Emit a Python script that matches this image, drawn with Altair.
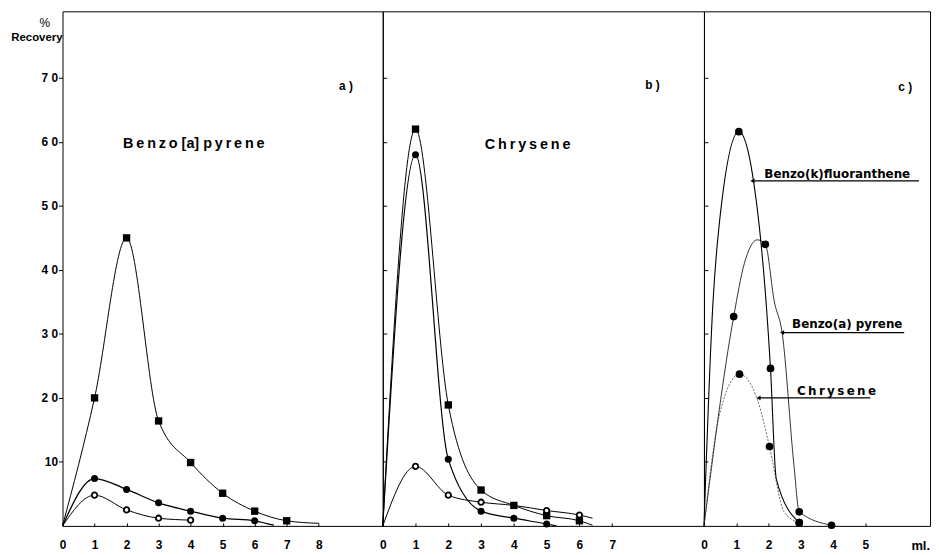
import altair as alt
import pandas as pd

# ---------------- data ----------------
# Panel a: Benzo[a]pyrene   (x = ml, y = % recovery)
a_sq_x = [0, 1, 2, 3, 4, 5, 6, 7, 8]
a_sq_y = [0, 20, 45, 16.4, 9.9, 5.1, 2.3, 0.8, 0.4]
a_sq_m = [0, 1, 1, 1, 1, 1, 1, 1, 0]
a_fc_x = [0, 1, 2, 3, 4, 5, 6, 6.6]
a_fc_y = [0, 7.4, 5.7, 3.6, 2.3, 1.2, 0.8, 0.1]
a_fc_m = [0, 1, 1, 1, 1, 1, 1, 0]
a_oc_x = [0, 1, 2, 3, 4]
a_oc_y = [0, 4.8, 2.5, 1.2, 0.9]
a_oc_m = [0, 1, 1, 1, 1]

# Panel b: Chrysene
b_sq_x = [0, 1, 2, 3, 4, 5, 6, 6.4]
b_sq_y = [0, 62, 18.9, 5.6, 3.2, 1.6, 0.8, 0.1]
b_sq_m = [0, 1, 1, 1, 1, 1, 1, 0]
b_fc_x = [0, 1, 2, 3, 4, 5, 5.3]
b_fc_y = [0, 58, 10.4, 2.3, 1.2, 0.3, 0]
b_fc_m = [0, 1, 1, 1, 1, 1, 0]
b_oc_x = [0, 1, 2, 3, 4, 5, 6, 6.4]
b_oc_y = [0, 9.3, 4.8, 3.7, 3.2, 2.4, 1.7, 1.2]
b_oc_m = [0, 1, 1, 1, 0, 1, 1, 0]

# Panel c: three compounds
c_bk_x = [0, 0.28, 0.45, 1.08, 1.5, 2.06, 2.24, 2.95]
c_bk_y = [0, 35, 46, 61.6, 55, 24.6, 7.3, 0.5]
c_bk_m = [0, 0, 0, 1, 0, 1, 0, 1]
c_bap_x = [0, 0.92, 1.25, 1.65, 1.9, 2.18, 2.42, 2.79, 2.95, 3.95]
c_bap_y = [0, 32.7, 41, 44.7, 44, 35, 30.2, 9.3, 2.2, 0.1]
c_bap_m = [0, 1, 0, 0, 1, 0, 0, 0, 1, 1]
c_chr_x = [0, 0.49, 1.1, 1.67, 2.03, 2.48, 2.95]
c_chr_y = [0, 17.6, 23.7, 19.5, 12.4, 2.2, 0.5]
c_chr_m = [0, 0, 1, 0, 1, 0, 1]

# labels in panel c
c_lab_text = ["Benzo(k)fluoranthene", "Benzo(a) pyrene",
              "C\u2009h\u2009r\u2009y\u2009s\u2009e\u2009n\u2009e"]
c_lab_x = [1.87, 2.73, 2.88]
c_lab_y = [55.0, 31.6, 21.1]
c_arrow_x = [1.5, 2.42, 1.69]
c_arrow_x2 = [6.66, 6.2, 5.15]
c_arrow_y = [53.9, 30.2, 20.0]

a_ticks = [0, 1, 2, 3, 4, 5, 6, 7, 8]
b_ticks = [0, 1, 2, 3, 4, 5, 6, 7]
c_ticks = [0, 1, 2, 3, 4, 5]
y_ticks = [10, 20, 30, 40, 50, 60, 70]

# ---------------- helpers ----------------
H = 519
YDOM = [0, 80.4]
FONT = "Liberation Sans"
TS = "\u2009"


def spaced(s):
    return TS.join(list(s))


def sdf(xs, ys, ms):
    return pd.DataFrame({"x": xs, "y": ys, "m": ms, "i": list(range(len(xs)))})


def encs(xdom, xticks, ylabels):
    xe = alt.X("x:Q", scale=alt.Scale(domain=xdom, nice=False, zero=False),
               axis=alt.Axis(values=xticks, title=None, grid=False, domain=False,
                             tickSize=3, offset=-3, tickColor="black", labelPadding=14,
                             labelFont=FONT, labelFontWeight="bold", labelFontSize=12,
                             labelColor="black", labelFlush=False, labelBaseline="top"))
    if ylabels:
        yax = alt.Axis(values=y_ticks, title=None, grid=False, domain=False,
                       tickSize=4, tickColor="black", labelPadding=1,
                       labelFont=FONT, labelFontWeight="bold", labelFontSize=12,
                       labelColor="black",
                       labelExpr="datum.value == 10 ? '10' : floor(datum.value/10) + ' 0'")
    else:
        yax = alt.Axis(values=y_ticks, title=None, grid=False, domain=False,
                       tickSize=4, offset=-4, tickColor="black", labels=False)
    ye = alt.Y("y:Q", scale=alt.Scale(domain=YDOM, nice=False), axis=yax)
    return xe, ye


def series_layers(df, xe, ye, shape, filled, size, sw=1.0, dash=None, color="black"):
    lk = dict(interpolate="monotone", color=color, strokeWidth=sw)
    if dash:
        lk["strokeDash"] = dash
    line = alt.Chart(df).mark_line(**lk).encode(x=xe, y=ye, order="i:Q")
    pts = alt.Chart(df[df.m == 1]).mark_point(
        shape=shape, filled=filled, size=size, color="black",
        fill="black" if filled else "white", strokeWidth=1.8 if not filled else 1,
        opacity=1).encode(x=xe, y=ye)
    return [line, pts]


def text_layer(xe, ye, x, y, txt, size, align="center", font=FONT):
    d = pd.DataFrame({"x": [x], "y": [y], "t": [txt]})
    return alt.Chart(d).mark_text(font=font, fontWeight="bold", fontSize=size,
                                  align=align, baseline="middle", color="black").encode(
        x=xe, y=ye, text="t:N")


# ---------------- panel a ----------------
xa, ya = encs([0, 10], a_ticks, True)
layers_a = []
layers_a += series_layers(sdf(a_sq_x, a_sq_y, a_sq_m), xa, ya, "square", True, 55)
layers_a += series_layers(sdf(a_fc_x, a_fc_y, a_fc_m), xa, ya, "circle", True, 50, sw=1.3)
layers_a += series_layers(sdf(a_oc_x, a_oc_y, a_oc_m), xa, ya, "circle", False, 30)
layers_a.append(text_layer(xa, ya, 4.1, 59.6,
                           spaced("Benzo") + " [a] " + spaced("pyrene"), 14.5))
layers_a.append(text_layer(xa, ya, 8.85, 68.8, "a )", 12))
layers_a.append(alt.Chart(pd.DataFrame({"t": ["Recovery"]})).mark_text(
    font=FONT, fontWeight="bold", fontSize=11.5, align="right", baseline="middle",
    color="black").encode(x=alt.value(0), y=alt.value(27), text="t:N"))
layers_a.append(alt.Chart(pd.DataFrame({"t": ["%"]})).mark_text(
    font=FONT, fontSize=12, align="center", baseline="middle",
    color="black").encode(x=alt.value(-18), y=alt.value(12), text="t:N"))
panel_a = alt.layer(*layers_a).properties(width=323, height=H)

# ---------------- panel b ----------------
xb, yb = encs([0, 9.8], b_ticks, False)
layers_b = []
layers_b += series_layers(sdf(b_sq_x, b_sq_y, b_sq_m), xb, yb, "square", True, 55)
layers_b += series_layers(sdf(b_fc_x, b_fc_y, b_fc_m), xb, yb, "circle", True, 50, sw=1.2)
layers_b += series_layers(sdf(b_oc_x, b_oc_y, b_oc_m), xb, yb, "circle", False, 30)
layers_b.append(text_layer(xb, yb, 4.42, 59.5, spaced("Chrysene"), 14.5))
layers_b.append(text_layer(xb, yb, 8.23, 68.9, "b )", 12))
panel_b = alt.layer(*layers_b).properties(width=324, height=H)

# ---------------- panel c ----------------
xc, yc = encs([0, 7], c_ticks, False)
layers_c = []
layers_c += series_layers(sdf(c_bk_x, c_bk_y, c_bk_m), xc, yc, "circle", True, 60, sw=1.1)
layers_c += series_layers(sdf(c_bap_x, c_bap_y, c_bap_m), xc, yc, "circle", True, 60, sw=0.8)
layers_c += series_layers(sdf(c_chr_x, c_chr_y, c_chr_m), xc, yc, "circle", True, 60, sw=0.8,
                          dash=[2, 1.5], color="#444")
ann = pd.DataFrame({"x": c_arrow_x, "x2": c_arrow_x2, "y": c_arrow_y})
layers_c.append(alt.Chart(ann).mark_rule(color="black", strokeWidth=1.3).encode(
    x=xc, x2="x2:Q", y=yc))
layers_c.append(alt.Chart(ann).mark_point(shape="triangle-left", filled=True, size=22,
                                          color="black", opacity=1).encode(x=xc, y=yc))
labs = pd.DataFrame({"x": c_lab_x, "y": c_lab_y, "t": c_lab_text})
layers_c.append(alt.Chart(labs).mark_text(font="DejaVu Sans", fontWeight="bold", fontSize=12,
                                          align="left", baseline="middle", color="black").encode(
    x=xc, y=yc, text="t:N"))
layers_c.append(text_layer(xc, yc, 6.23, 68.6, "c )", 12))
layers_c.append(alt.Chart(pd.DataFrame({"t": ["ml."]})).mark_text(
    font=FONT, fontWeight="bold", fontSize=13, align="right", baseline="middle",
    color="black").encode(x=alt.value(228), y=alt.value(H + 20), text="t:N"))
panel_c = alt.layer(*layers_c).properties(width=228, height=H)

chart = alt.hconcat(panel_a, panel_b, panel_c, spacing=0, bounds="flush").properties(
    padding={"left": 2, "top": 0, "right": 0, "bottom": 0},
    background="white",
).configure_view(stroke="black", strokeWidth=1)

chart.save("out.html", embed_options={"renderer": "svg", "actions": False})
